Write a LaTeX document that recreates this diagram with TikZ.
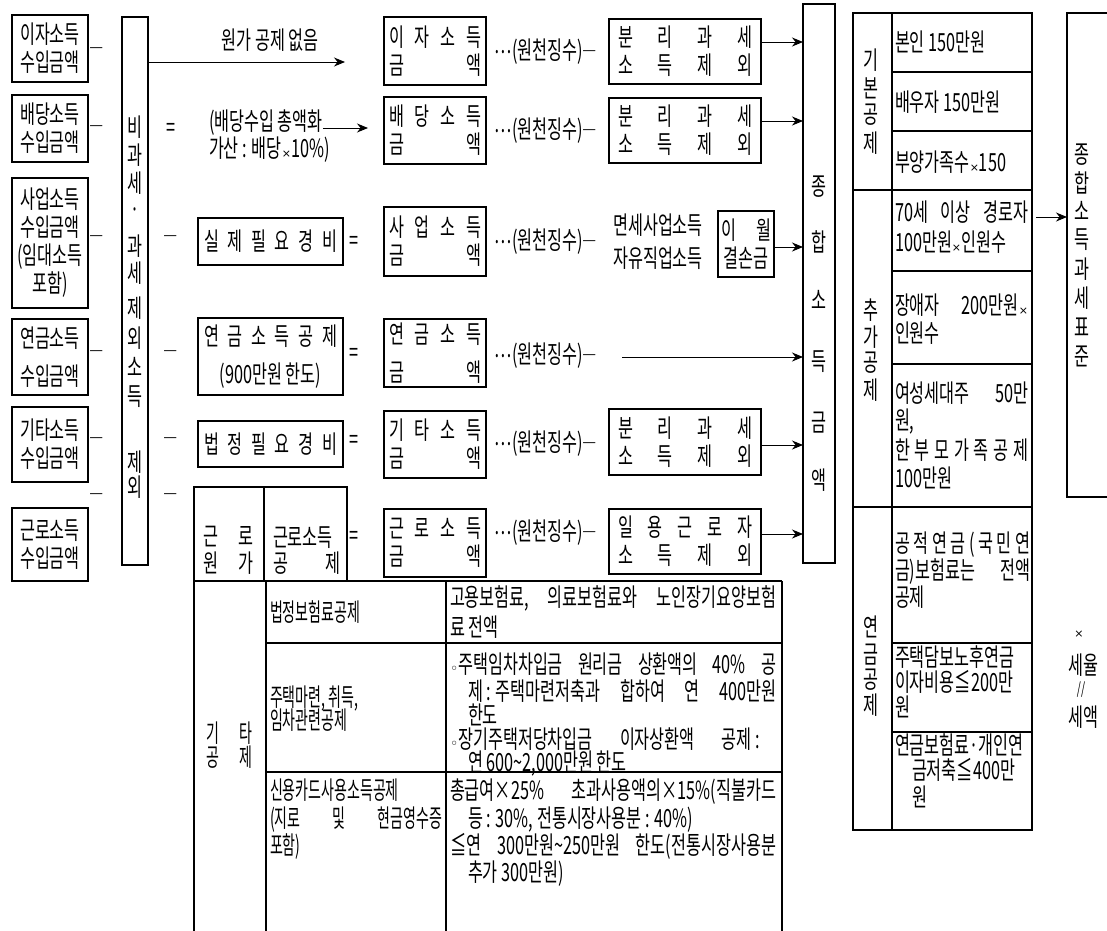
\documentclass[tikz,border=0pt]{standalone}
\usepackage{fontspec}
\setmainfont{Noto Sans CJK KR}[FakeStretch=0.65]
\newfontfamily\tblA{Noto Sans CJK KR}[FakeStretch=0.56]
\newfontfamily\tblB{Noto Sans CJK KR}[FakeStretch=0.65]
\newfontfamily\dvfont{DejaVu Sans}
\usetikzlibrary{arrows.meta}
\newcommand{\spr}[2]{\hbox to #1{#2}}
\newcommand{\smx}{{\dvfont\fontsize{11}{11}\selectfont ×}}
\newcommand{\dsh}{{\fontsize{22}{22}\selectfont ―}}
\newcommand{\wj}{\raisebox{6pt}{⋯}(원천징수)\dsh}
\newcommand{\BX}[6]{\node[bx, minimum width={(#4-#2)*1pt}, minimum height={(#5-#3)*1pt}, align=center] (#1) at (#2,#3) {#6};}
\tikzset{
  every node/.style={inner sep=0pt, outer sep=0pt, font=\fontsize{25}{28}\selectfont},
  bx/.style={draw, line width=1.1pt, anchor=north west},
  ln/.style={line width=1.1pt},
  tx/.style={anchor=west, text height=20pt, text depth=1.5pt},
  tta/.style={anchor=west, text height=19.5pt, text depth=1.5pt, font=\tblA\fontsize{25}{27}\selectfont},
  ttb/.style={anchor=west, text height=19.5pt, text depth=1.5pt, font=\tblB\fontsize{25}{27}\selectfont},
  arr/.style={-{Stealth[length=11pt,width=9pt]}, line width=0.9pt},
}
\begin{document}
\begin{tikzpicture}[x=1pt,y=-1pt]
\useasboundingbox (0,0) rectangle (1107,930);
% left income boxes
\BX{L1}{12}{15}{88}{82}{이자소득\\수입금액}
\BX{L2}{12}{95}{88}{162}{배당소득\\수입금액}
\BX{L3}{12}{178}{88}{308}{사업소득\\수입금액\\(임대소득\\포함)}
\BX{L4}{12}{319}{88}{395}{연금소득\\[10pt]수입금액}
\BX{L5}{12}{407}{88}{482}{기타소득\\수입금액}
\BX{L6}{12}{508}{88}{581}{근로소득\\수입금액}
\node (d1) at (97,52) {\dsh};
\node (d2) at (97,130) {\dsh};
\node (d3) at (97,240) {\dsh};
\node (d4) at (97,355) {\dsh};
\node (d5) at (97,442) {\dsh};
\node (d6) at (97,498) {\dsh};
% vertical box
\node[bx, minimum width=26pt, minimum height=548pt] (VB) at (122,17) {};
\foreach \c/\yy [count=\i] in {비/127,과/155,세/183,·/213,과/246,세/273,제/308,외/338,소/367,득/397,제/462,외/487}
  \node (v\i) at (135,\yy) {\c};
% row 1
\node (n0) at (270,40) {원가 공제 없음};
\coordinate (a1e) at (345,62);
\draw[arr] (VB.east |- a1e) -- (a1e);
% row 2
\node (eq2) at (171,130) {=};
\node[tx] (dv1) at (209,121) {(배당수입 총액화};
\node[tx] (dv2) at (209,148) {가산 : 배당\smx 10\%)};
% col 2 deductions
\node (m3) at (171,240) {\dsh};
\BX{B3}{198}{218}{343}{265}{\spr{133pt}{실\hfill 제\hfill 필\hfill 요\hfill 경\hfill 비}}
\node (e3) at (354,243) {=};
\node (m4) at (171,355) {\dsh};
\BX{B4}{198}{318}{343}{395}{\spr{133pt}{연\hfill 금\hfill 소\hfill 득\hfill 공\hfill 제}\\[10pt](900만원 한도)}
\node (e4) at (354,355) {=};
\node (m5) at (171,442) {\dsh};
\BX{B5}{198}{421}{343}{467}{\spr{133pt}{법\hfill 정\hfill 필\hfill 요\hfill 경\hfill 비}}
\node (e5) at (354,442) {=};
\node (m6) at (171,498) {\dsh};
\node[bx, minimum width=153pt, minimum height=94pt] (B6) at (194,487) {};
\draw[ln] (264,487) -- (264,581);
\node (g1) at (228,537) {\spr{50pt}{근\hfill 로}};
\node (g2) at (228,563) {\spr{50pt}{원\hfill 가}};
\node[tx] (g3) at (273,537) {근로소득};
\node[tx] (g4) at (273,563) {\spr{67pt}{공\hfill 제}};
\node (e6) at (354,538) {=};
% middle column boxes
\BX{M1}{384}{17}{486}{85}{\spr{92pt}{이\hfill 자\hfill 소\hfill 득}\\\spr{92pt}{금\hfill 액}}
\BX{M2}{384}{97}{486}{164}{\spr{92pt}{배\hfill 당\hfill 소\hfill 득}\\\spr{92pt}{금\hfill 액}}
\BX{M3}{384}{207}{486}{276}{\spr{92pt}{사\hfill 업\hfill 소\hfill 득}\\\spr{92pt}{금\hfill 액}}
\BX{M4}{384}{319}{486}{387}{\spr{92pt}{연\hfill 금\hfill 소\hfill 득}\\[10pt]\spr{92pt}{금\hfill 액}}
\BX{M5}{384}{411}{486}{478}{\spr{92pt}{기\hfill 타\hfill 소\hfill 득}\\\spr{92pt}{금\hfill 액}}
\BX{M6}{384}{509}{486}{577}{\spr{92pt}{근\hfill 로\hfill 소\hfill 득}\\\spr{92pt}{금\hfill 액}}
\coordinate (y2) at (0,128);
\draw[arr, shorten >=16pt] (dv1.east |- y2) -- (M2.west |- y2);
% withholding labels
\node (w1) at (546,52) {\wj};
\node (w2) at (546,131) {\wj};
\node (w3) at (546,242) {\wj};
\node (w4) at (546,356) {\wj};
\node (w5) at (546,444) {\wj};
\node (w6) at (546,533) {\wj};
% right boxes
\BX{R1}{609}{19}{761}{84}{\spr{134pt}{분\hfill 리\hfill 과\hfill 세}\\\spr{134pt}{소\hfill 득\hfill 제\hfill 외}}
\BX{R2}{609}{98}{761}{163}{\spr{134pt}{분\hfill 리\hfill 과\hfill 세}\\\spr{134pt}{소\hfill 득\hfill 제\hfill 외}}
\BX{R5}{609}{409}{761}{475}{\spr{134pt}{분\hfill 리\hfill 과\hfill 세}\\\spr{134pt}{소\hfill 득\hfill 제\hfill 외}}
\BX{R6}{609}{509}{761}{574}{\spr{134pt}{일\hfill 용\hfill 근\hfill 로\hfill 자}\\\spr{134pt}{소\hfill 득\hfill 제\hfill 외}}
\node (f1) at (658,225) {면세사업소득};
\node (f2) at (658,258) {자유직업소득};
\BX{IW}{718}{211}{774}{277}{\spr{50pt}{이\hfill 월}\\결손금}
% big box
\node[bx, minimum width=32pt, minimum height=559pt] (BIG) at (803,4) {};
\foreach \c/\yy [count=\i] in {종/187,합/242,소/300,득/362,금/423,액/480}
  \node (b\i) at (819,\yy) {\c};
\coordinate (ya) at (0,42);
\coordinate (yb) at (0,121);
\coordinate (yc) at (0,247);
\coordinate (p4) at (622,357);
\coordinate (ye) at (0,445);
\coordinate (yf) at (0,534);
\draw[arr] (R1.east |- ya) -- (BIG.west |- ya);
\draw[arr] (R2.east |- yb) -- (BIG.west |- yb);
\draw[arr] (IW.east |- yc) -- (BIG.west |- yc);
\draw[arr] (p4) -- (BIG.west |- p4);
\draw[arr] (R5.east |- ye) -- (BIG.west |- ye);
\draw[arr] (R6.east |- yf) -- (BIG.west |- yf);
% deduction table
\node[bx, minimum width=179pt, minimum height=817pt] (DT) at (853,13) {};
\draw[ln] (892,13) -- (892,830);
\foreach \yy in {72,131,271,364,643,732} \draw[ln] (892,\yy) -- (1032,\yy);
\foreach \yy in {190,507} \draw[ln] (853,\yy) -- (1032,\yy);
\foreach \c/\yy [count=\i] in {기/60,본/88,공/115,제/143,추/310,가/337,공/363,제/390,연/627,금/655,공/680,제/705}
  \node (k\i) at (871,\yy) {\c};
\node[tx] (D1) at (895,42) {본인 150만원};
\node[tx] (D2) at (895,102) {배우자 150만원};
\node[tx] (D3) at (895,162) {부양가족수\smx 150};
\node[tx] (D4) at (895,212) {\spr{133pt}{70세\hfill 이상\hfill 경로자}};
\node[tx] (D5) at (895,242) {100만원\smx 인원수};
\node[tx] (D6) at (895,305) {\spr{133pt}{장애자\hfill 200만원\smx}};
\node[tx] (D7) at (895,333) {인원수};
\node[tx] (D8) at (895,393) {\spr{133pt}{여성세대주\hfill 50만}};
\node[tx] (D9) at (895,420) {원,};
\node[tx] (D10) at (895,450) {\spr{133pt}{한\hfill 부\hfill 모\hfill 가\hfill 족\hfill 공\hfill 제}};
\node[tx] (D11) at (895,478) {100만원};
\node[tx] (D12) at (895,543) {\spr{135pt}{공\hfil 적\hfil 연\hfil 금\hfil (\hfil 국\hfil 민\hfil 연}};
\node[tx] (D13) at (895,570) {\spr{135pt}{금)보험료는\hfill 전액}};
\node[tx] (D14) at (895,597) {공제};
\node[tx] (D15) at (895,657) {주택담보노후연금};
\node[tx] (D16) at (895,682) {이자비용≦200만};
\node[tx] (D17) at (895,707) {원};
\node[tx] (D18) at (895,745) {연금보험료·개인연};
\node[tx] (D19) at (912,770) {금저축≦400만};
\node[tx] (D20) at (912,797) {원};
% final box
\node[bx, minimum width=50pt, minimum height=484pt] (FB) at (1067,13) {};
\foreach \c/\yy [count=\i] in {종/155,합/183,소/211,득/240,과/269,세/298,표/327,준/356}
  \node (s\i) at (1082,\yy) {\c};
\coordinate (yg) at (0,217);
\draw[arr] ([xshift=4pt]DT.east |- yg) -- (FB.west |- yg);
\node (x1) at (1079,634) {\smx};
\node (x2) at (1083,665) {세율};
\node (x3) at (1081,690) {{\fontsize{16}{16}\selectfont //}};
\node (x4) at (1083,717) {세액};
% lower table
\draw[ln] (194,581) -- (782,581);
\foreach \xx in {194,266,446,782} \draw[ln] (\xx,581) -- (\xx,935);
\draw[ln] (266,643) -- (782,643);
\draw[ln] (266,772) -- (782,772);
\node[tta, anchor=center] (q1) at (229,733) {\spr{46pt}{기\hfill 타}};
\node[tta, anchor=center] (q2) at (229,757) {\spr{46pt}{공\hfill 제}};
\node[tta] (c1) at (270,612) {법정보험료공제};
\node[tta] (c2) at (270,697) {주택마련, 취득,};
\node[tta] (c3) at (270,720) {임차관련공제};
\node[tta] (c4) at (270,790) {신용카드사용소득공제};
\node[tta] (c5) at (270,818) {\spr{172pt}{(지로\hfill 및\hfill 현금영수증}};
\node[tta] (c6) at (270,845) {포함)};
\node[ttb] (t1) at (450,597) {\spr{326pt}{고용보험료,\hfill 의료보험료와\hfill 노인장기요양보험}};
\node[ttb] (t2) at (450,627) {료 전액};
\node[ttb] (t3) at (450,664) {\spr{326pt}{{\dvfont\fontsize{14}{14}\selectfont ◦}주택임차차입금\hfill 원리금\hfill 상환액의\hfill 40\%\hfill 공}};
\node[ttb] (t4) at (468,691) {\spr{308pt}{제 : 주택마련저축과\hfill 합하여\hfill 연\hfill 400만원}};
\node[ttb] (t5) at (468,715) {한도};
\node[ttb] (t6) at (450,739) {\spr{310pt}{{\dvfont\fontsize{14}{14}\selectfont ◦}장기주택저당차입금\hfill 이자상환액\hfill 공제 :}};
\node[ttb] (t7) at (468,762) {연 600\textasciitilde 2,000만원 한도};
\node[ttb] (t8) at (450,790) {\spr{326pt}{총급여×25\%\hfill 초과사용액의×15\%(직불카드}};
\node[ttb] (t9) at (468,818) {등 : 30\%, 전통시장사용분 : 40\%)};
\node[ttb] (t10) at (450,845) {\spr{326pt}{≦연\hfill 300만원\textasciitilde 250만원\hfill 한도(전통시장사용분}};
\node[ttb] (t11) at (468,872) {추가 300만원)};
\end{tikzpicture}
\end{document}
